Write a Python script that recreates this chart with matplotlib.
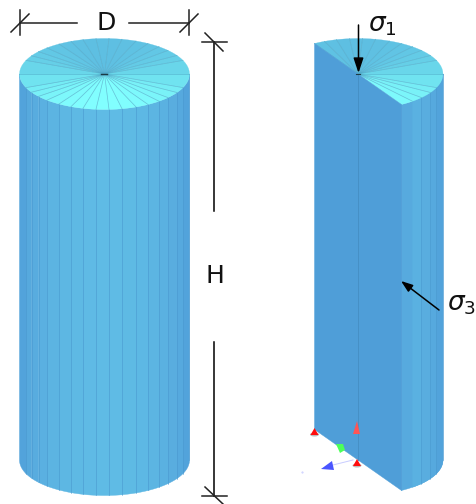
import numpy as np
import matplotlib
matplotlib.use("Agg")
import matplotlib.pyplot as plt
from matplotlib.colors import LinearSegmentedColormap
from matplotlib.patches import Polygon, Ellipse

# facet edges along the front of the cylinder, px from the axis
facet_offsets = [-85, -78.5, -73, -66, -57.5, -45.5, -33.5, -21.5, -8.5, 4.5, 17.5, 31.5, 43.5, 54.5, 63.5, 72.5, 78.5, 85]
rx, ry = 85, 35.5
left_cx, right_cx = 104.5, 358
top_y, bottom_y = 74, 460
cut_offset = 43.5

side_cmap = LinearSegmentedColormap.from_list("side", ["#4f9ed9", "#57aade", "#5fbbe5"])
top_cmap = LinearSegmentedColormap.from_list("top", ["#5ebfe2", "#6cdcec", "#81ffff"])

fig = plt.figure(figsize=(4.77, 5.04), dpi=100)
ax = fig.add_axes([0, 0, 1, 1])
ax.set_xlim(0, 477)
ax.set_ylim(504, 0)
ax.axis("off")

# angles of the facet edges, front half then back half
front = np.arccos(np.clip(np.array(facet_offsets) / rx, -1, 1))
thetas = np.sort(np.concatenate([front, -front[:-1]]))


def ell(cx, cy, t):
    return cx + rx * np.cos(t), cy + ry * np.sin(t)


def draw_side(cx, t0, t1):
    t = np.linspace(t0, t1, 12)
    x, y = ell(cx, bottom_y, t)
    x2, y2 = ell(cx, top_y, t[::-1])
    pts = np.column_stack([np.r_[x, x2], np.r_[y, y2]])
    col = side_cmap(np.sin((t0 + t1) / 2))
    ax.add_patch(Polygon(pts, closed=True, fc=col, ec=col, lw=0.3, zorder=2))
    xe, ye = ell(cx, bottom_y, t0)
    xe2, ye2 = ell(cx, top_y, t0)
    ax.plot([xe, xe2], [ye, ye2], color="#4a98cf", lw=0.5, alpha=0.8, zorder=3)


def draw_top(cx, t0, t1):
    t = np.linspace(t0, t1, 6)
    x, y = ell(cx, top_y, t)
    pts = np.column_stack([np.r_[cx, x], np.r_[top_y, y]])
    col = top_cmap((np.sin((t0 + t1) / 2) + 1) / 2)
    ax.add_patch(Polygon(pts, closed=True, fc=col, ec=col, lw=0.2, zorder=4))
    xe, ye = ell(cx, top_y, t0)
    ax.plot([cx, xe], [top_y, ye], color="#4fa6c6", lw=0.5, alpha=0.7, zorder=5)


# left cylinder
for a, b in zip(front[1:][::-1], front[:-1][::-1]):
    draw_side(left_cx, a, b)
for a, b in zip(thetas[:-1], thetas[1:]):
    draw_top(left_cx, a, b)
ax.plot([left_cx - 3, left_cx + 3], [top_y, top_y], color="#1c3a44", lw=1, zorder=6)

# right half cylinder, kept between the cut line ends
cut = np.arccos(cut_offset / rx)
back_cut = -np.pi + cut
keep = np.r_[front[front < cut - 0.01], cut]
for a, b in zip(keep[1:][::-1], keep[:-1][::-1]):
    draw_side(right_cx, a, b)
inner = thetas[(thetas < cut - 0.01) & (thetas > back_cut + 0.01)]
kept = np.r_[back_cut, inner, cut]
for a, b in zip(kept[:-1], kept[1:]):
    draw_top(right_cx, a, b)

# cut plane
back_x, back_y = ell(right_cx, top_y, back_cut)
fr_x, fr_y = ell(right_cx, top_y, cut)
back_xb, back_yb = ell(right_cx, bottom_y, back_cut)
fr_xb, fr_yb = ell(right_cx, bottom_y, cut)
ax.add_patch(Polygon([[back_x, back_y], [fr_x, fr_y], [fr_xb, fr_yb], [back_xb, back_yb]],
                     closed=True, fc="#4f9ed8", ec="#4f9ed8", lw=0.3, zorder=7))
ax.plot([right_cx, right_cx], [top_y, bottom_y], color="#4690c6", lw=0.7, zorder=8)
ax.plot([right_cx - 2, right_cx + 2], [top_y, top_y], color="#1c3a44", lw=0.8, zorder=8)

# axis triad
ax.plot([353, 333], [460, 465], color="#c8ccff", lw=0.7, zorder=9)
ax.add_patch(Ellipse((314.5, 434.5), 9, 4, fc="#bbbbbb", ec="none", zorder=9))
ax.add_patch(Ellipse((357, 465.5), 9, 4, fc="#bbbbbb", ec="none", zorder=9))
ax.add_patch(Polygon([[310.5, 435], [318.5, 435], [314.5, 428]], closed=True, fc="#ff0d0d", ec="none", zorder=10))
ax.add_patch(Polygon([[353, 466], [361, 466], [357, 459]], closed=True, fc="#ff0d0d", ec="none", zorder=10))
ax.add_patch(Polygon([[353, 434], [360, 434], [357, 421]], closed=True, fc="#ff5555", ec="none", zorder=10))
ax.add_patch(Polygon([[336, 444], [343, 444], [345, 450], [340, 453]], closed=True, fc="#4dff5a", ec="none", zorder=10))
ax.add_patch(Polygon([[321, 469], [332, 461], [334, 470]], closed=True, fc="#4a55ff", ec="none", zorder=10))
ax.plot([302], [472], marker=".", ms=1, color="#c8ccff", zorder=9)

# dimension lines
dim = dict(color="#222222", lw=1.1, zorder=12)
ax.plot([20, 77], [23, 23], **dim)
ax.plot([129, 189], [23, 23], **dim)
ax.plot([20, 20], [10, 35], **dim)
ax.plot([189, 189], [10, 35], **dim)
ax.plot([11, 29], [32, 14], **dim)
ax.plot([180, 198], [32, 14], **dim)
ax.plot([214, 214], [42, 211], color="black", lw=1.1, zorder=12)
ax.plot([214, 214], [342, 496], color="black", lw=1.1, zorder=12)
ax.plot([202, 227], [42, 42], **dim)
ax.plot([202, 227], [496, 496], **dim)
ax.plot([205, 223], [33, 51], **dim)
ax.plot([205, 223], [487, 504], **dim)

# arrows
ax.annotate("", xy=(358.5, 73), xytext=(358.5, 25), zorder=13,
            arrowprops=dict(arrowstyle="-|>,head_length=0.9,head_width=0.3", color="black", lw=1.1, shrinkA=0, shrinkB=0))
ax.annotate("", xy=(401, 281), xytext=(439, 310), zorder=13,
            arrowprops=dict(arrowstyle="-|>,head_length=0.7,head_width=0.25", color="black", lw=1.1, shrinkA=0, shrinkB=0))

# labels
ax.text(106, 23, "D", fontsize=18, ha="center", va="center", color="#111111")
ax.text(215, 276, "H", fontsize=18, ha="center", va="center", color="#111111")
ax.text(382, 25, r"$\sigma_1$", fontsize=19, ha="center", va="center", color="#111111")
ax.text(461.5, 304, r"$\sigma_3$", fontsize=19, ha="center", va="center", color="#111111")

fig.savefig("out.png", dpi=100)
